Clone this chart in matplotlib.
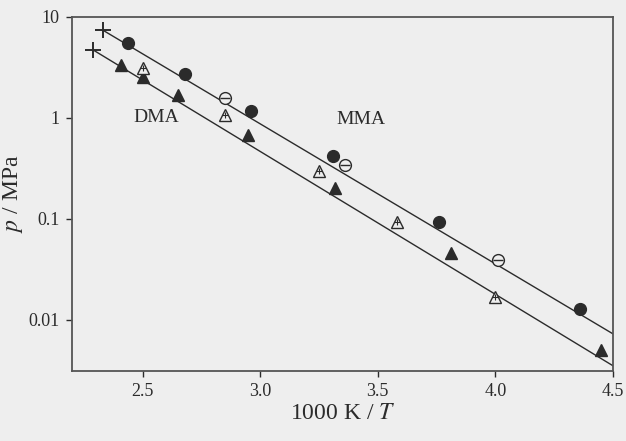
import matplotlib.pyplot as plt
import numpy as np

plt.rcParams['font.family'] = ['Liberation Serif', 'DejaVu Serif']
plt.rcParams['mathtext.fontset'] = 'stix'

# MMA data (1000 K / T, p / MPa)
mma_filled_x = [2.44, 2.68, 2.96, 3.31, 3.76, 4.36]
mma_filled_p = [5.53, 2.73, 1.17, 0.42, 0.093, 0.0126]
mma_open_x = [2.85, 3.36, 4.01]
mma_open_p = [1.58, 0.343, 0.0393]
mma_plus_x = [2.33]
mma_plus_p = [7.43]
mma_line_x = [2.33, 4.5]
mma_line_p = [7.43, 0.00723]

# DMA data
dma_filled_x = [2.41, 2.50, 2.65, 2.95, 3.32, 3.81, 4.45]
dma_filled_p = [3.35, 2.56, 1.69, 0.68, 0.203, 0.046, 0.00505]
dma_open_x = [2.50, 2.85, 3.25, 3.58, 4.00]
dma_open_p = [3.15, 1.07, 0.30, 0.093, 0.0169]
dma_plus_x = [2.29]
dma_plus_p = [4.71]
dma_line_x = [2.29, 4.5]
dma_line_p = [4.71, 0.00349]

xticks = [2.5, 3.0, 3.5, 4.0, 4.5]
yticks = [0.01, 0.1, 1, 10]
ytick_labels = ['0.01', '0.1', '1', '10']

ink = '#2b2b2b'
bg = '#eeeeee'

fig = plt.figure(figsize=(6.26, 4.41), dpi=100)
fig.patch.set_facecolor(bg)
ax = fig.add_axes([0.115, 0.159, 0.864, 0.8025])
ax.set_facecolor(bg)

# fit lines
ax.plot(mma_line_x, mma_line_p, color=ink, lw=1.0)
ax.plot(dma_line_x, dma_line_p, color=ink, lw=1.0)

# plus markers at line starts
ax.plot(mma_plus_x, mma_plus_p, '+', color=ink, ms=11, mew=1.4)
ax.plot(dma_plus_x, dma_plus_p, '+', color=ink, ms=11, mew=1.4)

# MMA circles
ax.plot(mma_filled_x, mma_filled_p, 'o', color=ink, ms=8.5, ls='none')
ax.plot(mma_open_x, mma_open_p, 'o', mfc=bg, mec=ink, mew=1.0, ms=8.5, ls='none')
ax.plot(mma_open_x, mma_open_p, '_', color=ink, mew=1.0, ms=7, ls='none')

# DMA triangles
ax.plot(dma_filled_x, dma_filled_p, '^', color=ink, ms=8.5, ls='none')
ax.plot(dma_open_x, dma_open_p, '^', mfc=bg, mec=ink, mew=1.0, ms=8.5, ls='none')
ax.plot(dma_open_x, dma_open_p, '+', color=ink, mew=0.8, ms=5, ls='none')

ax.text(2.56, 1.0, 'DMA', fontsize=14, color=ink, ha='center', va='center')
ax.text(3.43, 0.97, 'MMA', fontsize=14, color=ink, ha='center', va='center')

ax.set_yscale('log')
ax.set_xlim(2.2, 4.5)
ax.set_ylim(0.0031, 10)
ax.set_xticks(xticks)
ax.set_xticklabels([f'{t:.1f}' for t in xticks])
ax.set_yticks(yticks)
ax.set_yticklabels(ytick_labels)
ax.minorticks_off()
ax.tick_params(direction='out', length=4, width=1.0, colors=ink, labelsize=13, pad=5)
for s in ax.spines.values():
    s.set_color('#555555')
    s.set_linewidth(1.3)

ax.set_xlabel('1000 K / $T$', fontsize=17, color=ink, labelpad=2)
ax.set_ylabel('$p$ / MPa', fontsize=17, color=ink, labelpad=2)

fig.savefig('out.png', dpi=100, facecolor=fig.get_facecolor())
